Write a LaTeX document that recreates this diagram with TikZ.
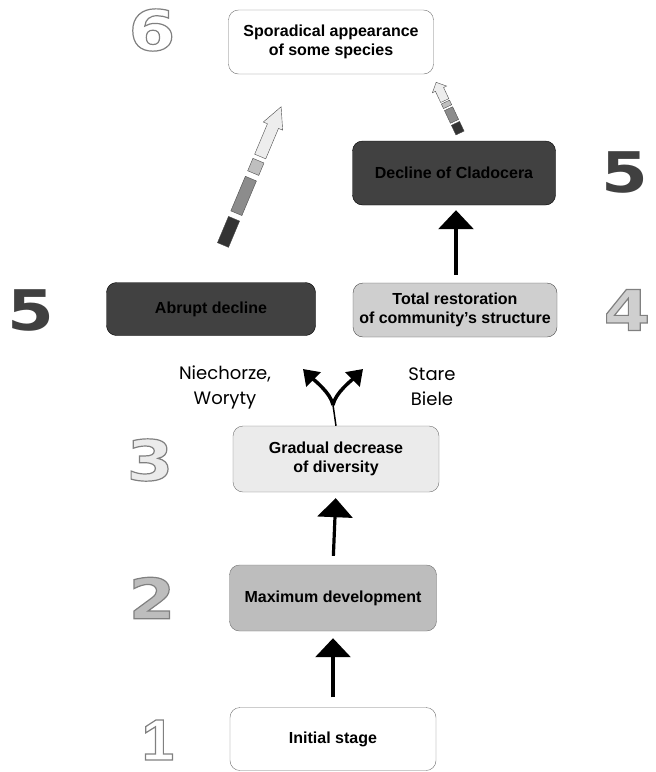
\documentclass[tikz,border=0pt]{standalone}
\usepackage{fontspec}
\setmainfont{Liberation Sans}
\newfontfamily\placefont{Poppins}
\newfontfamily\numfont[FakeStretch=1.2]{DejaVu Sans}
\usetikzlibrary{arrows.meta}
\definecolor{boxedge}{HTML}{707070}
\definecolor{darkfill}{HTML}{414141}
\definecolor{midfill}{HTML}{BDBDBD}
\definecolor{lightfill}{HTML}{CFCFCF}
\definecolor{palefill}{HTML}{EBEBEB}
\tikzset{
  stagebox/.style={draw=boxedge, rounded corners=10pt, minimum width=205pt, minimum height=64pt,
    align=center, font=\fontsize{16}{19}\selectfont\bfseries, inner sep=1pt},
  darkbox/.style={stagebox, draw=black, fill=darkfill, text=black},
  bigarrow/.style={line width=3.2pt, -{Triangle[width=35pt,length=19pt]}},
  forkline/.style={line width=3.5pt, -{Triangle[width=20pt,length=15pt]}},
  placename/.style={align=center, font=\placefont\fontsize{18}{25}\selectfont},
  numeral/.style={font=\numfont\fontsize{56}{56}\selectfont\bfseries, inner sep=0pt}
}
% outlined digit: fill in text colour, stroke in grey
\newcommand{\hollowDigit}[1]{\special{pdf:literal direct 0.5 G 1.2 w 2 Tr}#1\special{pdf:literal direct 0 Tr}}
% segmented arrow fading from dark to light: #1 tail, #2 angle, #3 length, #4 half width
\newcommand{\drawFadeArrow}[4]{%
  \begin{scope}[shift={#1}, rotate=#2, x=#3pt, y=#4pt, draw=gray!60!black, line width=0.4pt]
    \filldraw[fill=black!80] (0,-1) rectangle (0.19,1);
    \filldraw[fill=black!45] (0.23,-1) rectangle (0.48,1);
    \filldraw[fill=black!25] (0.52,-1) rectangle (0.61,1);
    \filldraw[fill=black!7] (0.64,-1) -- (0.86,-1) -- (0.86,-1.75) -- (1,0)
      -- (0.86,1.75) -- (0.86,1) -- (0.64,1) -- cycle;
  \end{scope}}

\begin{document}
\begin{tikzpicture}[x=1pt, y=-1pt]
    \useasboundingbox (0,0) rectangle (656,772);

    % stages
    \node[stagebox] (sporadic) at (331,42) {Sporadical appearance\\of some species};
    \node[darkbox, minimum width=203pt] (cladocera) at (454,173) {Decline of Cladocera};
    \node[darkbox, minimum width=209pt, minimum height=53pt] (abrupt) at (211,309) {Abrupt decline};
    \node[stagebox, fill=lightfill, draw=black!70, minimum width=204pt, minimum height=54pt] (restoration) at (455,310) {Total restoration\\of community's structure};
    \node[stagebox, fill=palefill, minimum width=206pt, minimum height=66pt] (gradual) at (336,459) {Gradual decrease\\of diversity};
    \node[stagebox, fill=midfill, minimum width=207pt, minimum height=66pt] (maxdev) at (333,598) {Maximum development};
    \node[stagebox, minimum width=206pt, minimum height=63pt] (initial) at (333,739) {Initial stage};

    % numbers
    \node[numeral, text=white] (num6) at (152,30) {\hollowDigit{6}};
    \node[numeral, text=black!75] (num5top) at (625,172) {5};
    \node[numeral, text=black!75] (num5left) at (31,310) {5};
    \node[numeral, text=lightfill] (num4) at (627,310) {\hollowDigit{4}};
    \node[numeral, text=palefill] (num3) at (150,460) {\hollowDigit{3}};
    \node[numeral, text=midfill] (num2) at (152,598) {\hollowDigit{2}};
    \node[numeral, text=white, font=\fontsize{58}{58}\selectfont\bfseries] (num1) at (158,740) {\hollowDigit{1}};

    % lakes
    \node[placename] (niechorze) at (225,387) {Niechorze,\\Woryty};
    \node[placename] (stare) at (432,387) {Stare\\Biele};

    % upward arrows
    \draw[bigarrow, shorten <=10pt, shorten >=7pt] (initial.north) -- (maxdev.south);
    \draw[bigarrow, shorten <=9pt, shorten >=6pt] (maxdev.north) -- (gradual.south);
    \draw[bigarrow, shorten <=8pt, shorten >=5pt] (restoration.north -| 456,0) -- (cladocera.south -| 456,0);

    % fork above gradual decrease
    \coordinate (fork) at (333,405);
    \coordinate (forkL) at (303,369);
    \coordinate (forkR) at (363,369);
    \draw[line width=1.5pt] (gradual.north) -- (fork);
    \draw[forkline] (fork) .. controls +(-2,-12) and +(10,10) .. (forkL);
    \draw[forkline] (fork) .. controls +(2,-12) and +(-10,10) .. (forkR);

    % fading arrows towards stage 6
    \coordinate (fadeA) at (223,245);
    \coordinate (fadeB) at (460,133);
    \drawFadeArrow{(fadeA)}{67.2}{150}{6}
    \drawFadeArrow{(fadeB)}{115.2}{56}{4.5}
\end{tikzpicture}
\end{document}
